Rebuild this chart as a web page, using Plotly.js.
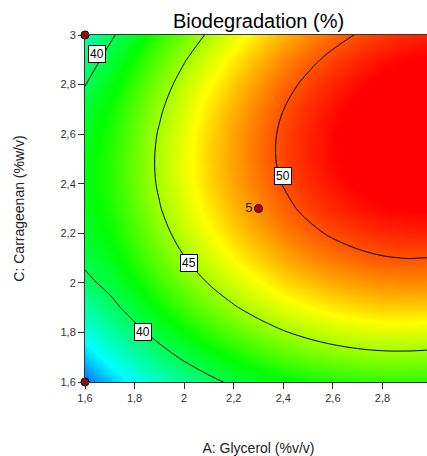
<!DOCTYPE html>
<html>
<head>
<meta charset="utf-8">
<script src="https://cdn.plot.ly/plotly-3.0.1.min.js"></script>
<style>
html,body{margin:0;padding:0;overflow:hidden;background:#fff;}
#chart{width:440px;height:456px;}
</style>
</head>
<body>
<div id="chart"></div>
<script>
// A: Glycerol (%v/v) grid
const glycerol = [1.6,1.7,1.8,1.9,2.0,2.1,2.2,2.3,2.4,2.5,2.6,2.7,2.8,2.9,3.0];
// C: Carrageenan (%w/v) grid
const carrageenan = [1.6,1.7,1.8,1.9,2.0,2.1,2.2,2.3,2.4,2.5,2.6,2.7,2.8,2.9,3.0];
// Biodegradation (%) — rows follow carrageenan, columns follow glycerol
const biodegradation = [
  [33.77,35.15,36.42,37.57,38.61,39.53,40.34,41.03,41.61,42.07,42.41,42.64,42.75,42.75,42.63],
  [35.34,36.75,38.04,39.21,40.27,41.21,42.04,42.75,43.35,43.83,44.19,44.44,44.58,44.59,44.50],
  [36.72,38.14,39.45,40.65,41.73,42.69,43.54,44.27,44.89,45.39,45.78,46.05,46.20,46.24,46.17],
  [38.10,39.45,40.72,41.89,42.99,43.98,44.85,45.60,46.24,46.76,47.17,47.46,47.64,47.70,47.64],
  [39.55,40.50,41.75,42.94,44.06,45.07,45.96,46.73,47.39,47.94,48.36,48.68,48.87,48.95,48.92],
  [40.40,41.30,42.58,43.80,44.94,45.96,46.88,47.67,48.35,48.92,49.36,49.70,49.92,50.02,49.98],
  [40.90,41.90,43.20,44.45,45.62,46.66,47.60,48.41,49.11,49.70,50.17,50.52,50.76,50.88,50.89],
  [41.30,42.30,43.63,44.91,46.10,47.17,48.12,48.96,49.68,50.29,50.78,51.15,51.41,51.55,51.58],
  [41.45,42.50,43.88,45.18,46.39,47.48,48.45,49.31,50.05,50.68,51.19,51.59,51.86,52.03,52.08],
  [41.40,42.52,43.93,45.25,46.48,47.59,48.58,49.46,50.23,50.87,51.41,51.82,52.12,52.31,52.38],
  [41.10,42.35,43.78,45.13,46.37,47.50,48.52,49.42,50.21,50.87,51.43,51.87,52.19,52.39,52.49],
  [40.70,41.98,43.44,44.80,46.07,47.23,48.26,49.18,49.99,50.68,51.25,51.71,52.05,52.28,52.39],
  [39.95,41.40,42.89,44.29,45.58,46.75,47.81,48.75,49.58,50.29,50.88,51.36,51.73,51.98,52.11],
  [39.00,40.63,42.15,43.58,44.89,46.08,47.16,48.12,48.97,49.70,50.32,50.82,51.20,51.47,51.63],
  [37.98,39.66,41.22,42.67,44.00,45.22,46.31,47.30,48.17,48.92,49.56,50.08,50.48,50.77,50.95]
];
// design points
const designA = [1.6, 1.6, 2.3];
const designC = [3.0, 1.6, 2.3];
const designLabels = ['', '', '5'];
// contour levels
const contourLevels = [40, 45, 50];
const contourLabelText = ['40', '40', '45', '50'];
// axis tick values
const xTicks = [1.6, 1.8, 2.0, 2.2, 2.4, 2.6, 2.8];
const yTicks = [1.6, 1.8, 2.0, 2.2, 2.4, 2.6, 2.8, 3.0];

const zmin = 32, zmax = 52.5;
function pos(v){ return (v - zmin) / (zmax - zmin); }
const colorscale = [
  [0, 'rgb(0,0,255)'],
  [pos(36.2), 'rgb(0,255,255)'],
  [pos(41.8), 'rgb(0,255,0)'],
  [pos(46.8), 'rgb(255,255,0)'],
  [pos(51.5), 'rgb(255,0,0)'],
  [1, 'rgb(255,0,0)']
];

const heat = {
  type: 'heatmap', x: glycerol, y: carrageenan, z: biodegradation,
  zsmooth: 'best', colorscale: colorscale, zmin: zmin, zmax: zmax,
  showscale: false, hoverinfo: 'skip'
};
const lines = {
  type: 'contour', x: glycerol, y: carrageenan, z: biodegradation,
  autocontour: false,
  contours: {start: contourLevels[0], end: contourLevels[contourLevels.length-1], size: contourLevels[1]-contourLevels[0], coloring: 'none', showlabels: false},
  line: {color: '#000', width: 1, smoothing: 1},
  showscale: false, hoverinfo: 'skip'
};
const pts = {
  type: 'scatter', mode: 'markers+text', x: designA, y: designC, text: designLabels,
  textposition: 'middle left', textfont: {family: 'Arial, Liberation Sans, sans-serif', size: 13, color: '#222'},
  marker: {size: 8, color: '#c00000', line: {color: '#000', width: 1}},
  cliponaxis: false, hoverinfo: 'skip', showlegend: false
};

// label box positions (layout)
const labelPos = [[1.650, 2.925], [1.833, 1.800], [2.021, 2.081], [2.397, 2.433]];
const annotations = contourLabelText.map((t, i) => ({
  x: labelPos[i][0], y: labelPos[i][1], xref: 'x', yref: 'y', text: t, showarrow: false,
  font: {family: 'Arial, Liberation Sans, sans-serif', size: 12, color: '#000'},
  bgcolor: '#fff', bordercolor: '#000', borderwidth: 1, borderpad: 1
}));

const tickFont = {family: 'Arial, Liberation Sans, sans-serif', size: 11, color: '#333'};
const layout = {
  width: 440, height: 456,
  margin: {l: 85, r: 8, t: 35, b: 74},
  separators: ',.',
  paper_bgcolor: '#fff', plot_bgcolor: '#fff',
  showlegend: false,
  title: {text: 'Biodegradation (%)', font: {family: 'Arial, Liberation Sans, sans-serif', size: 20, color: '#000'},
          x: 0.5, xref: 'paper', xanchor: 'center', y: 0.955, yanchor: 'middle'},
  xaxis: {range: [1.6, 3.0], tickmode: 'array', tickvals: xTicks, ticks: 'outside', ticklen: 6, tickcolor: '#333',
          showline: true, linecolor: '#333', linewidth: 1, mirror: true, showgrid: false, zeroline: false,
          tickfont: tickFont,
          title: {text: 'A: Glycerol (%v/v)', font: {family: 'Arial, Liberation Sans, sans-serif', size: 14, color: '#222'}, standoff: 40}},
  yaxis: {range: [1.6, 3.0], tickmode: 'array', tickvals: yTicks, ticks: 'outside', ticklen: 6, tickcolor: '#333',
          showline: true, linecolor: '#333', linewidth: 1, mirror: true, showgrid: false, zeroline: false,
          tickfont: tickFont,
          title: {text: 'C: Carrageenan (%w/v)', font: {family: 'Arial, Liberation Sans, sans-serif', size: 14, color: '#222'}, standoff: 32}},
  annotations: annotations
};

Plotly.newPlot('chart', [heat, lines, pts], layout, {displayModeBar: false, staticPlot: true});
</script>
</body>
</html>
